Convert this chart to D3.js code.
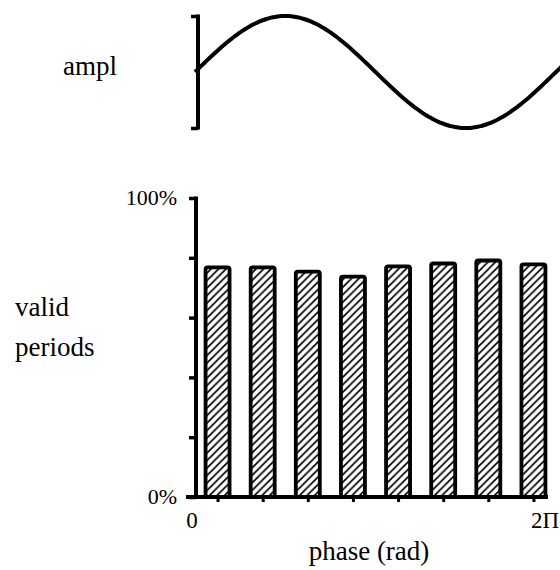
<!DOCTYPE html>
<html>
<head>
<meta charset="utf-8">
<script src="https://cdn.jsdelivr.net/npm/d3@7"></script>
<style>
  body { margin: 0; background: #fff; }
  text { font-family: "Liberation Serif", "Times New Roman", serif; fill: #000; }
</style>
</head>
<body>
<div id="chart"></div>
<script>
  var width = 560,
      height = 570;

  // phase bins (8 across one cycle) and % of valid periods in each
  var binCount = 8;
  var validPct = [76.8, 76.8, 75.4, 73.7, 77.1, 78.1, 79.1, 77.8];
  var yTicks = [0, 20, 40, 60, 80, 100];
  var yTickLabels = {0: "0%", 100: "100%"};
  var xTickLabels = [{v: 0, t: "0"}, {v: 2 * Math.PI, t: "2\u03A0"}];
  // phase samples (degrees) for the reference wave, runs a little past 2pi off the edge
  var phaseDeg = d3.range(0, 367, 3);

  var svg = d3.select("#chart")
        .append("svg")
        .attr("width", width)
        .attr("height", height);

  var x = d3.scaleLinear().domain([0, 2 * Math.PI]).range([195, 556]);
  var yAmp = d3.scaleLinear().domain([-1, 1]).range([128, 16]);
  var y = d3.scaleLinear().domain([0, 100]).range([497, 198]);
  var binW = (x.range()[1] - x.range()[0]) / binCount;

  // hatch fill
  var defs = svg.append("defs");
  defs.append("pattern")
    .attr("id", "hatch")
    .attr("patternUnits", "userSpaceOnUse")
    .attr("width", 7.5)
    .attr("height", 7.5)
    .append("path")
    .attr("d", "M-1,1 l2,-2 M0,7.5 l7.5,-7.5 M6.5,8.5 l2,-2")
    .attr("stroke", "#000")
    .attr("stroke-width", 1.7);

  // ---- top panel: amplitude ----
  var line = d3.line()
    .x(function(d) { return x(d * Math.PI / 180); })
    .y(function(d) { return yAmp(Math.sin(d * Math.PI / 180)); })
    .curve(d3.curveBasis);

  svg.append("path")
    .datum(phaseDeg)
    .attr("d", line)
    .attr("fill", "none")
    .attr("stroke", "#000")
    .attr("stroke-width", 4);

  var ampAxis = d3.axisLeft(yAmp).tickValues([-1, 1]).tickSize(7).tickFormat("");
  svg.append("g")
    .attr("transform", "translate(198,0)")
    .call(ampAxis)
    .call(function(g) {
      g.select(".domain").remove();
      g.selectAll("line").attr("stroke", "#000").attr("stroke-width", 3.5);
      g.append("line").attr("y1", yAmp(1) - 1.5).attr("y2", yAmp(-1) + 1.5)
        .attr("stroke", "#000").attr("stroke-width", 4);
    });

  svg.append("text")
    .attr("x", 90)
    .attr("y", 75)
    .attr("text-anchor", "middle")
    .attr("font-size", 27)
    .text("ampl");

  // ---- bottom panel: valid periods ----
  svg.selectAll(".bar")
    .data(validPct)
    .enter().append("rect")
    .attr("class", "bar")
    .attr("x", function(d, i) { return x.range()[0] + binW * (i + 0.5) - 12; })
    .attr("width", 24)
    .attr("y", function(d) { return y(d); })
    .attr("height", function(d) { return y(0) - y(d); })
    .attr("rx", 2)
    .attr("fill", "url(#hatch)")
    .attr("stroke", "#000")
    .attr("stroke-width", 3.8);

  var yAxis = d3.axisLeft(y).tickValues(yTicks).tickSize(7).tickFormat("");
  svg.append("g")
    .attr("transform", "translate(196,0)")
    .call(yAxis)
    .call(function(g) {
      g.select(".domain").remove();
      g.selectAll("line").attr("stroke", "#000").attr("stroke-width", 3.5);
      g.append("line").attr("y1", y(100) - 1.5).attr("y2", y(0) + 2)
        .attr("stroke", "#000").attr("stroke-width", 4);
    });

  svg.selectAll(".ylab")
    .data(yTicks.filter(function(d) { return yTickLabels[d]; }))
    .enter().append("text")
    .attr("class", "ylab")
    .attr("x", 177)
    .attr("y", function(d) { return y(d) + 7; })
    .attr("text-anchor", "end")
    .attr("font-size", 22)
    .text(function(d) { return yTickLabels[d]; });

  var binCenters = d3.range(binCount).map(function(i) { return (i + 0.5) * 2 * Math.PI / binCount; });
  var xAxis = d3.axisBottom(x).tickValues(binCenters).tickSize(5).tickFormat("");
  svg.append("g")
    .attr("transform", "translate(0," + y(0) + ")")
    .call(xAxis)
    .call(function(g) {
      g.select(".domain").remove();
      g.selectAll("line").attr("stroke", "#000").attr("stroke-width", 3);
      g.append("line").attr("x1", 186).attr("x2", 548)
        .attr("stroke", "#000").attr("stroke-width", 4);
    });

  svg.selectAll(".xlab")
    .data(xTickLabels)
    .enter().append("text")
    .attr("class", "xlab")
    .attr("x", function(d) { return d.v === 0 ? x(d.v) - 3 : x(d.v) - 11; })
    .attr("y", 528)
    .attr("text-anchor", "middle")
    .attr("font-size", 23)
    .text(function(d) { return d.t; });

  svg.append("text")
    .attr("x", 15)
    .attr("y", 316)
    .attr("font-size", 27)
    .text("valid");
  svg.append("text")
    .attr("x", 15)
    .attr("y", 356)
    .attr("font-size", 27)
    .text("periods");

  svg.append("text")
    .attr("x", 369)
    .attr("y", 560)
    .attr("text-anchor", "middle")
    .attr("font-size", 27)
    .text("phase (rad)");
</script>
</body>
</html>
